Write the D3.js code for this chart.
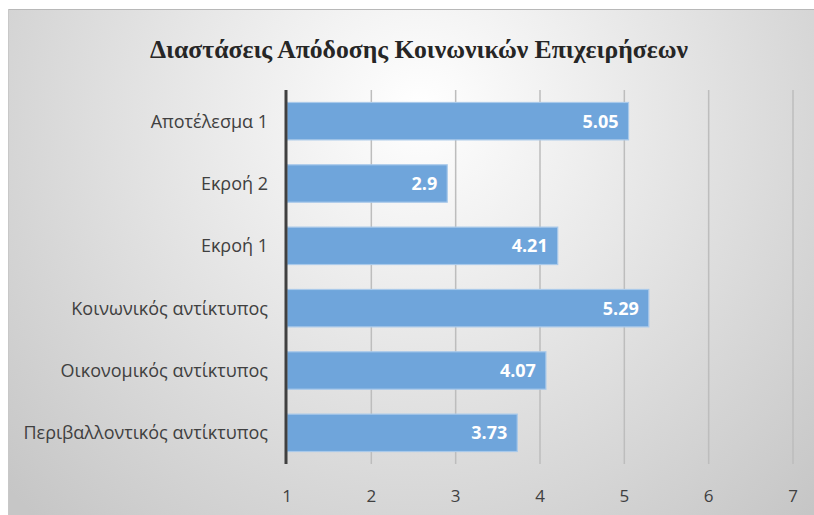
<!DOCTYPE html>
<html>
<head>
<meta charset="utf-8">
<script src="https://cdnjs.cloudflare.com/ajax/libs/d3/7.8.5/d3.min.js"></script>
<style>
  body { margin: 0; background: #fff; }
  svg { display: block; }
</style>
</head>
<body>
<svg id="chart"></svg>
<script>
var width = 814;
var height = 515;

var categories = [
  "Αποτέλεσμα 1",
  "Εκροή 2",
  "Εκροή 1",
  "Κοινωνικός αντίκτυπος",
  "Οικονομικός αντίκτυπος",
  "Περιβαλλοντικός αντίκτυπος"
];
var values = [5.05, 2.9, 4.21, 5.29, 4.07, 3.73];
var xTicks = [1, 2, 3, 4, 5, 6, 7];
var title = "Διαστάσεις Απόδοσης Κοινωνικών Επιχειρήσεων";

var margin = { top: 90, right: 21, bottom: 51, left: 287 };

var svg = d3.select("#chart").attr("width", width).attr("height", height);

var defs = svg.append("defs");
var grad = defs.append("radialGradient")
  .attr("id", "bg")
  .attr("gradientUnits", "userSpaceOnUse")
  .attr("cx", 420).attr("cy", 110).attr("r", 560);
grad.append("stop").attr("offset", "0%").attr("stop-color", "#ffffff");
grad.append("stop").attr("offset", "100%").attr("stop-color", "#c6c6c6");

// panel
svg.append("rect")
  .attr("x", 8).attr("y", 9)
  .attr("width", width - 8).attr("height", height - 9)
  .attr("fill", "url(#bg)");
svg.append("line")
  .attr("x1", 8).attr("x2", width).attr("y1", 9.5).attr("y2", 9.5)
  .attr("stroke", "#b8b8b8").attr("stroke-width", 1);
svg.append("line")
  .attr("x1", 8.5).attr("x2", 8.5).attr("y1", 9).attr("y2", height)
  .attr("stroke", "#c8c8c8").attr("stroke-width", 1);

var x = d3.scaleLinear()
  .domain([1, 7])
  .range([margin.left, width - margin.right]);

var y = d3.scaleBand()
  .domain(categories)
  .range([margin.top, height - margin.bottom])
  .paddingInner(0.4)
  .paddingOuter(0.2);

// title (squeezed like the condensed original)
svg.append("text")
  .attr("x", 419)
  .attr("y", 58)
  .attr("text-anchor", "middle")
  .attr("font-family", "Liberation Serif, Times New Roman, serif")
  .attr("font-weight", "bold")
  .attr("font-size", 26)
  .attr("fill", "#262626")
  .attr("textLength", 538)
  .attr("lengthAdjust", "spacingAndGlyphs")
  .text(title);

// gridlines
svg.append("g")
  .selectAll("line")
  .data(xTicks.slice(1))
  .enter()
  .append("line")
  .attr("x1", function(d) { return x(d); })
  .attr("x2", function(d) { return x(d); })
  .attr("y1", margin.top)
  .attr("y2", height - margin.bottom)
  .attr("stroke", "#bdbdbd")
  .attr("stroke-width", 1.5);

// bars
svg.append("g")
  .selectAll("rect")
  .data(values)
  .enter()
  .append("rect")
  .attr("x", x(1))
  .attr("y", function(d, i) { return y(categories[i]); })
  .attr("width", function(d) { return x(d) - x(1); })
  .attr("height", y.bandwidth())
  .attr("fill", "#6fa5db")
  .attr("stroke", "#a9c9ea")
  .attr("stroke-width", 1.2);

// value labels
svg.append("g")
  .selectAll("text")
  .data(values)
  .enter()
  .append("text")
  .attr("x", function(d) { return x(d) - 10; })
  .attr("y", function(d, i) { return y(categories[i]) + y.bandwidth() / 2; })
  .attr("dy", "0.36em")
  .attr("text-anchor", "end")
  .attr("font-family", "Open Sans, Noto Sans, sans-serif")
  .attr("font-weight", "bold")
  .attr("font-size", 18)
  .attr("fill", "#ffffff")
  .text(function(d) { return d; });

// y axis line
svg.append("line")
  .attr("x1", x(1) - 1).attr("x2", x(1) - 1)
  .attr("y1", margin.top).attr("y2", height - margin.bottom)
  .attr("stroke", "#404040")
  .attr("stroke-width", 3);

// category labels
svg.append("g")
  .selectAll("text")
  .data(categories)
  .enter()
  .append("text")
  .attr("x", 268)
  .attr("y", function(d) { return y(d) + y.bandwidth() / 2; })
  .attr("dy", "0.36em")
  .attr("text-anchor", "end")
  .attr("font-family", "Open Sans, Noto Sans, sans-serif")
  .attr("font-size", 18)
  .attr("fill", "#404040")
  .text(function(d) { return d; });

// x tick labels
svg.append("g")
  .selectAll("text")
  .data(xTicks)
  .enter()
  .append("text")
  .attr("x", function(d) { return x(d); })
  .attr("y", 502)
  .attr("text-anchor", "middle")
  .attr("font-family", "Open Sans, Noto Sans, sans-serif")
  .attr("font-size", 17)
  .attr("fill", "#404040")
  .text(function(d) { return d; });
</script>
</body>
</html>
